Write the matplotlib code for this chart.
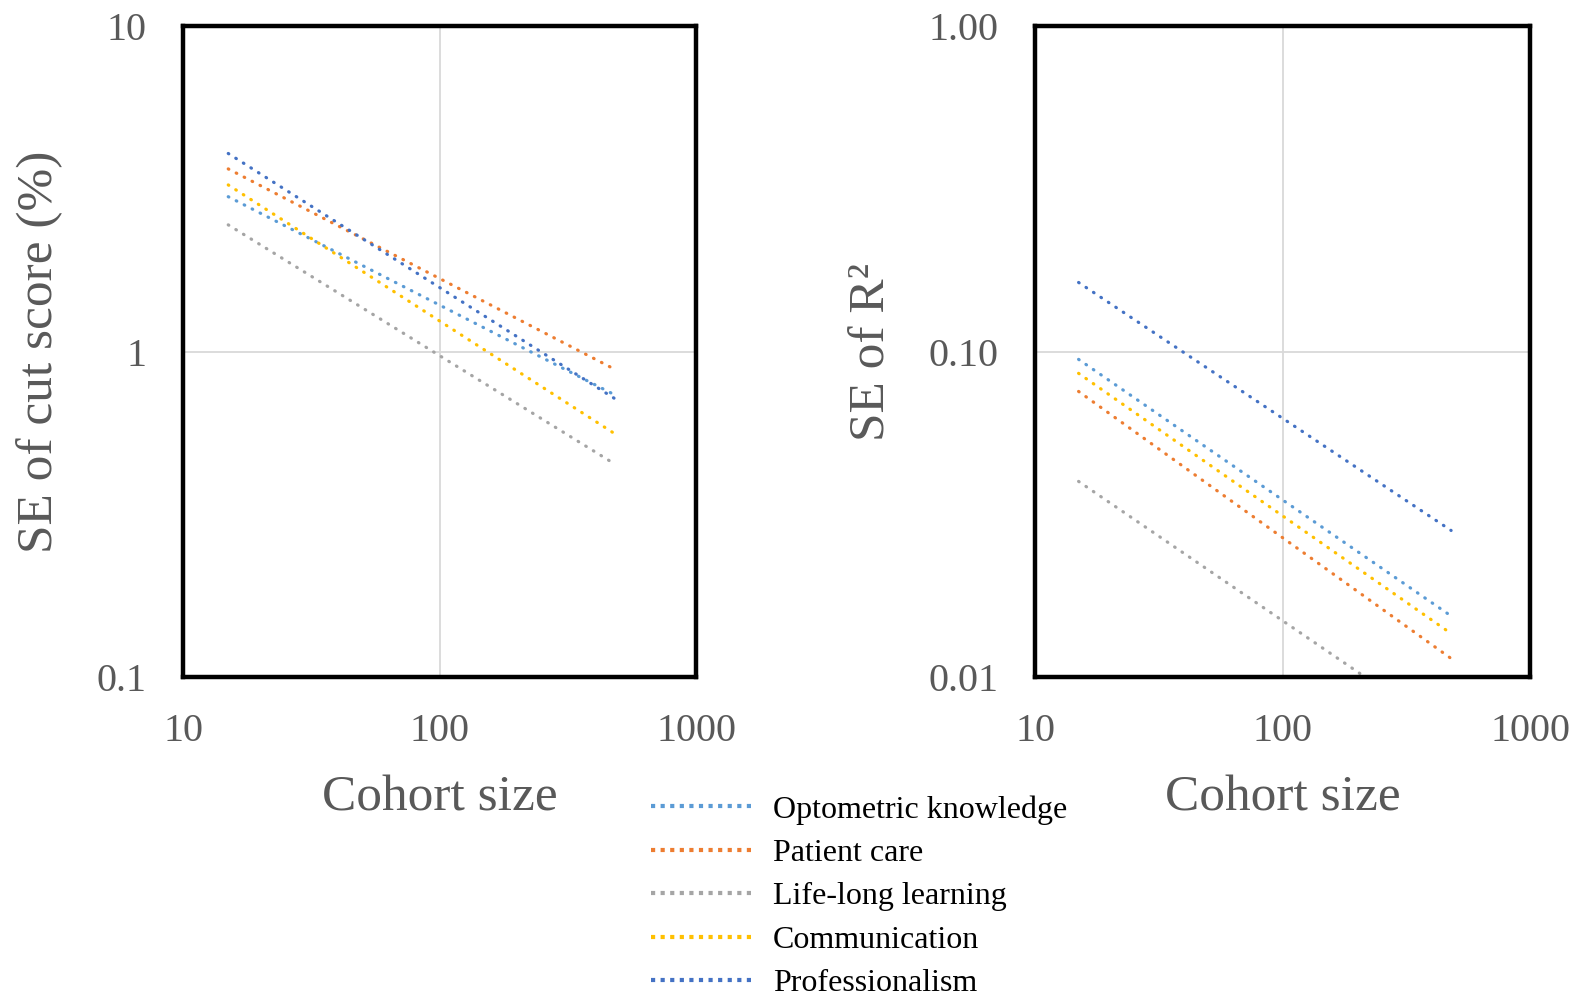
import numpy as np
from matplotlib import pyplot as plt

plt.rcParams['font.family'] = ['Liberation Serif', 'DejaVu Serif']

# cohort sizes at the ends of each curve
cohort = [15, 480]

series = ['Optometric knowledge', 'Patient care', 'Life-long learning',
          'Communication', 'Professionalism']
colors = ['#5B9BD5', '#ED7D31', '#A5A5A5', '#FFC000', '#4472C4']

# SE of cut score (%)
se_cut = {
    'Optometric knowledge': [2.99, 0.737],
    'Patient care':         [3.64, 0.883],
    'Life-long learning':   [2.45, 0.452],
    'Communication':        [3.25, 0.560],
    'Professionalism':      [4.06, 0.718],
}

# SE of R^2
se_r2 = {
    'Optometric knowledge': [0.0946, 0.0154],
    'Patient care':         [0.0754, 0.0114],
    'Life-long learning':   [0.0399, 0.0066],
    'Communication':        [0.0857, 0.0136],
    'Professionalism':      [0.163, 0.0282],
}

grey = '#595959'
dots = (0, (0.2, 2.6))

fig = plt.figure(figsize=(15.85, 9.94), dpi=100)
ax1 = fig.add_axes([0.1155, 0.3189, 0.3237, 0.6549])
ax2 = fig.add_axes([0.653, 0.3189, 0.3123, 0.6549])


def style(ax, ylim, yticks, ylabels, ylabel):
    ax.set_xscale('log')
    ax.set_yscale('log')
    ax.set_xlim(10, 1000)
    ax.set_ylim(*ylim)
    ax.set_xticks([10, 100, 1000])
    ax.set_xticklabels(['10', '100', '1000'])
    ax.set_yticks(yticks)
    ax.set_yticklabels(ylabels)
    ax.minorticks_off()
    ax.tick_params(axis='both', length=0, labelsize=29, labelcolor=grey, pad=26)
    ax.grid(True, color='#D9D9D9', linewidth=1.3)
    ax.set_axisbelow(True)
    for sp in ax.spines.values():
        sp.set_linewidth(3.2)
        sp.set_color('black')
    ax.set_xlabel('Cohort size', fontsize=37, color=grey, labelpad=18)
    ax.set_ylabel(ylabel, fontsize=37, color=grey, labelpad=24)


for name, c in zip(series, colors):
    ax1.plot(cohort, se_cut[name], color=c, linewidth=2.3,
             linestyle=dots, dash_capstyle='round', label=name)
    ax2.plot(cohort, se_r2[name], color=c, linewidth=2.3,
             linestyle=dots, dash_capstyle='round')

style(ax1, (0.1, 10), [0.1, 1, 10], ['0.1', '1', '10'], 'SE of cut score (%)')
style(ax2, (0.01, 1), [0.01, 0.1, 1], ['0.01', '0.10', '1.00'], 'SE of R²')

# legend handles drawn with square dots
handles = [plt.Line2D([], [], color=c, linewidth=3, linestyle=(0, (1, 1.3)))
           for c in colors]
leg = fig.legend(handles, series, loc='upper left', bbox_to_anchor=(0.4025, 0.213),
                 frameon=False, fontsize=23, handlelength=3.25,
                 handletextpad=0.57, labelspacing=0.44, borderaxespad=0)

fig.savefig('out.png', dpi=100)
